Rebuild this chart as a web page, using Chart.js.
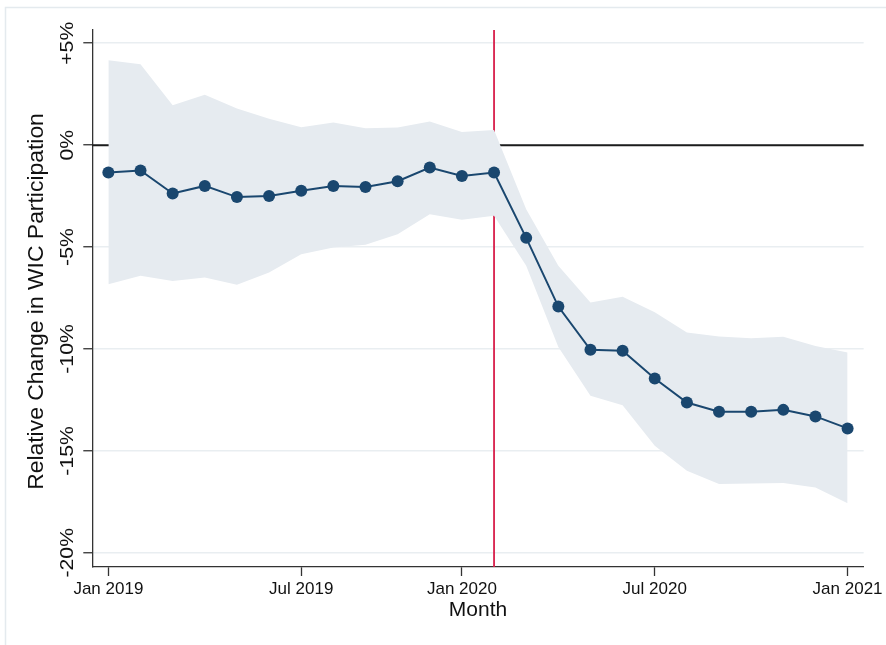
<!DOCTYPE html>
<html>
<head>
<meta charset="utf-8">
<script src="https://cdn.jsdelivr.net/npm/chart.js@4.4.1/dist/chart.umd.min.js"></script>
<style>
  html, body { margin: 0; padding: 0; background: #ffffff; }
  #wrap { width: 886px; height: 645px; position: relative; }
</style>
</head>
<body>
<div id="wrap"><canvas id="chart" width="886" height="645"></canvas></div>
<script>
// Month positions (0 = first month of the series)
const monthIdx = [0, 1, 2, 3, 4, 5, 6, 7, 8, 9, 10, 11, 12, 13, 14, 15, 16, 17, 18, 19, 20, 21, 22, 23];

// Point estimates: relative change in WIC participation (%)
const estimate = [-1.34, -1.24, -2.37, -2.00, -2.55, -2.49, -2.24, -2.00, -2.05, -1.77, -1.10, -1.51,
                  -1.34, -4.55, -7.92, -10.04, -10.09, -11.45, -12.63, -13.08, -13.08, -12.99, -13.31, -13.90];

// 95% confidence band
const ciUpper = [4.17, 3.97, 1.96, 2.47, 1.80, 1.30, 0.88, 1.11, 0.83, 0.87, 1.16, 0.65,
                 0.74, -3.14, -5.92, -7.72, -7.44, -8.20, -9.19, -9.39, -9.47, -9.40, -9.85, -10.17];
const ciLower = [-6.82, -6.41, -6.67, -6.49, -6.85, -6.25, -5.35, -5.02, -4.89, -4.37, -3.39, -3.66,
                 -3.47, -5.92, -9.90, -12.30, -12.76, -14.75, -15.98, -16.63, -16.60, -16.58, -16.80, -17.57];

// Axis ticks
const xTickPositions = [0, 6, 11, 17, 23];
const xTickLabels = ['Jan 2019', 'Jul 2019', 'Jan 2020', 'Jul 2020', 'Jan 2021'];
const yTickValues = [5, 0, -5, -10, -15, -20];
const yTickLabels = ['+5%', '0%', '-5%', '-10%', '-15%', '-20%'];

// Month of the policy change (vertical marker)
const eventIdx = 12;

const FONT = "'Liberation Sans', Arial, Helvetica, sans-serif";
const NAVY = '#1a476f';
const BAND = '#e6ebf0';
const INK = '#111111';
const AXIS = '#333333';

const toPoints = vals => monthIdx.map((m, i) => ({ x: m, y: vals[i] }));

// Zero line and event marker sit underneath the confidence band
const referenceLines = {
  id: 'referenceLines',
  beforeDatasetsDraw(chart) {
    const { ctx, chartArea, scales } = chart;
    const y0 = scales.y.getPixelForValue(0);
    const xe = scales.x.getPixelForValue(eventIdx);
    ctx.save();
    ctx.strokeStyle = '#1c1c1c';
    ctx.lineWidth = 2;
    ctx.beginPath();
    ctx.moveTo(chartArea.left, y0);
    ctx.lineTo(chartArea.right, y0);
    ctx.stroke();
    ctx.strokeStyle = '#d81e4a';
    ctx.lineWidth = 1.8;
    ctx.beginPath();
    ctx.moveTo(xe, chartArea.top);
    ctx.lineTo(xe, chartArea.bottom);
    ctx.stroke();
    ctx.restore();
  }
};

// Outer frame, rotated y tick labels and y axis title
const decorations = {
  id: 'decorations',
  afterDraw(chart) {
    const { ctx, chartArea, scales } = chart;
    ctx.save();
    ctx.strokeStyle = '#e4eaee';
    ctx.lineWidth = 1.5;
    ctx.beginPath();
    ctx.moveTo(5.5, 645);
    ctx.lineTo(5.5, 7.5);
    ctx.lineTo(886, 7.5);
    ctx.stroke();

    ctx.fillStyle = INK;
    ctx.textAlign = 'center';
    ctx.textBaseline = 'middle';
    ctx.font = '18px ' + FONT;
    yTickValues.forEach((v, i) => {
      const py = scales.y.getPixelForValue(v);
      ctx.save();
      ctx.translate(68, py);
      ctx.rotate(-Math.PI / 2);
      ctx.scale(1.18, 1);
      ctx.fillText(yTickLabels[i], 0, 0);
      ctx.restore();
    });

    ctx.font = '21.5px ' + FONT;
    ctx.save();
    ctx.translate(37, (chartArea.top + chartArea.bottom) / 2 + 3);
    ctx.rotate(-Math.PI / 2);
    ctx.scale(1.065, 1);
    ctx.fillText('Relative Change in WIC Participation', 0, 0);
    ctx.restore();
    ctx.restore();
  }
};

new Chart(document.getElementById('chart'), {
  type: 'line',
  data: {
    datasets: [
      {
        label: 'Estimate',
        data: toPoints(estimate),
        borderColor: NAVY,
        borderWidth: 2,
        pointRadius: 6,
        pointBackgroundColor: NAVY,
        pointBorderWidth: 0,
        fill: false,
        tension: 0
      },
      {
        label: 'Upper bound',
        data: toPoints(ciUpper),
        borderColor: 'rgba(0,0,0,0)',
        borderWidth: 0,
        pointRadius: 0,
        backgroundColor: BAND,
        fill: '+1',
        tension: 0
      },
      {
        label: 'Lower bound',
        data: toPoints(ciLower),
        borderColor: 'rgba(0,0,0,0)',
        borderWidth: 0,
        pointRadius: 0,
        fill: false,
        tension: 0
      }
    ]
  },
  options: {
    responsive: false,
    animation: false,
    devicePixelRatio: 1,
    layout: { padding: { left: 0, right: 21, top: 30, bottom: 0 } },
    plugins: { legend: { display: false }, tooltip: { enabled: false } },
    scales: {
      x: {
        type: 'linear',
        position: 'bottom',
        min: -0.5,
        max: 23.5,
        afterBuildTicks: s => { s.ticks = xTickPositions.map(v => ({ value: v })); },
        afterFit: s => { s.height = 78; },
        ticks: {
          callback: v => xTickLabels[xTickPositions.indexOf(v)],
          font: { family: FONT, size: 17 },
          color: INK,
          padding: 3,
          autoSkip: false,
          maxRotation: 0,
          minRotation: 0
        },
        grid: { drawOnChartArea: false, drawTicks: true, tickLength: 9, tickColor: AXIS, tickWidth: 1.3 },
        border: { display: true, color: AXIS, width: 1.3 },
        title: {
          display: true,
          text: 'Month',
          font: { family: FONT, size: 21 },
          color: INK,
          padding: { top: 0, bottom: 22 }
        }
      },
      y: {
        type: 'linear',
        position: 'left',
        min: -20.7,
        max: 5.65,
        afterBuildTicks: s => { s.ticks = yTickValues.map(v => ({ value: v })); },
        afterFit: s => { s.width = 92.3; },
        ticks: { display: false },
        grid: { color: '#e9eef1', lineWidth: 1.5, drawTicks: true, tickLength: 9, tickColor: AXIS, tickWidth: 1.3 },
        border: { display: true, color: AXIS, width: 1.3 }
      }
    }
  },
  plugins: [referenceLines, decorations]
});
</script>
</body>
</html>
